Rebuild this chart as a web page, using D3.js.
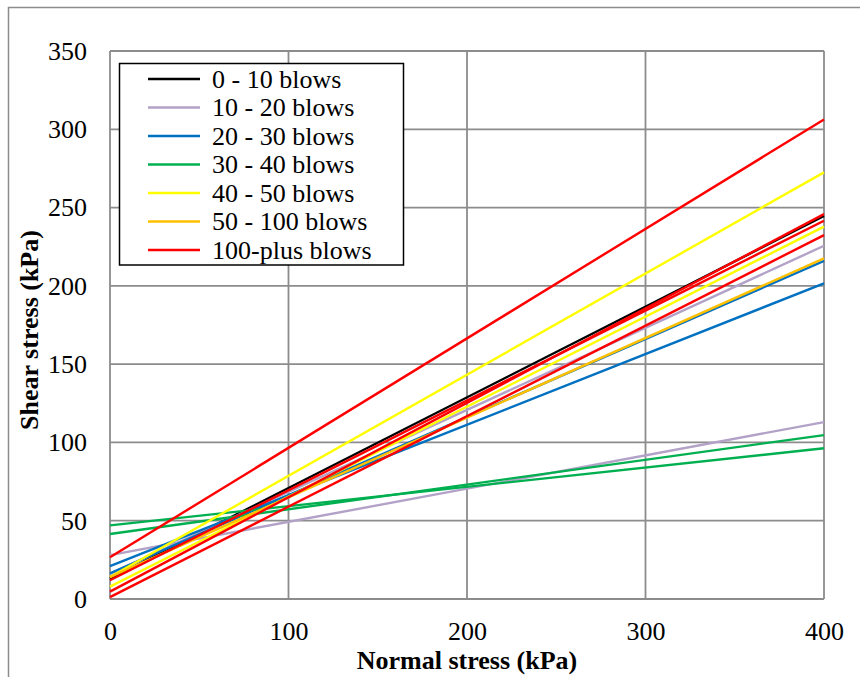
<!DOCTYPE html>
<html>
<head>
<meta charset="utf-8">
<script src="https://cdn.jsdelivr.net/npm/d3@7"></script>
<style>
  html, body { margin: 0; padding: 0; background: #fff; }
  svg { display: block; }
  text { font-family: "Liberation Serif", "Times New Roman", serif; fill: #000; }
</style>
</head>
<body>
<svg id="chart" width="865" height="677"></svg>
<script>
// ---- data ----
const seriesNames = ["0 - 10 blows", "10 - 20 blows", "20 - 30 blows", "30 - 40 blows",
                     "40 - 50 blows", "50 - 100 blows", "100-plus blows"];
const xEnds = [0, 400];                       // normal stress at line ends (kPa)
// shear stress at normal stress 0 and 400 for each fitted line, per series
const blows0to10   = [[13, 244.6]];
const blows10to20  = [[28, 113], [16, 225.6]];
const blows20to30  = [[21, 201.6], [16.4, 216]];
const blows30to40  = [[47, 96.3], [41.5, 104.7]];
const blows40to50  = [[14, 272.5], [7.9, 237.8]];
const blows50to100 = [[14, 217.6]];
const blows100plus = [[26.6, 306.3], [12, 241.6], [4.7, 245.8], [1.2, 232.4]];
const seriesLines = [blows0to10, blows10to20, blows20to30, blows30to40, blows40to50, blows50to100, blows100plus];
const xTicks = [0, 100, 200, 300, 400];
const yTicks = [0, 50, 100, 150, 200, 250, 300, 350];
const xTitle = "Normal stress (kPa)";
const yTitle = "Shear stress (kPa)";

// ---- styles ----
const colors = ["#000000", "#b3a2c7", "#0070c0", "#00b050", "#ffff00", "#ffc000", "#ff0000"];
const FS = "26px";

const svg = d3.select("#chart");
const x = d3.scaleLinear().domain([0, 400]).range([110, 824]);
const y = d3.scaleLinear().domain([0, 350]).range([599, 51]);

// outer frame
svg.append("path").attr("d", "M8.5,677 V7.5 H860").attr("fill", "none")
   .attr("stroke", "#8c8c8c").attr("stroke-width", 1.5);

// gridlines
const grid = svg.append("g");
grid.selectAll("line.v").data(xTicks).join("line")
  .attr("x1", d => x(d)).attr("x2", d => x(d)).attr("y1", y(0)).attr("y2", y(350))
  .attr("stroke", "#8c8c8c").attr("stroke-width", 1.8);
grid.selectAll("line.h").data(yTicks).join("line")
  .attr("y1", d => y(d)).attr("y2", d => y(d)).attr("x1", x(0)).attr("x2", x(400))
  .attr("stroke", "#8c8c8c").attr("stroke-width", 1.8);

// axes (labels only)
const xAxis = d3.axisBottom(x).tickValues(xTicks).tickSize(0).tickPadding(23);
const gx = svg.append("g").attr("transform", `translate(0,${y(0)})`).call(xAxis);
gx.select(".domain").remove();
gx.selectAll("text").style("font-size", FS).style("font-family", "Liberation Serif");

const yAxis = d3.axisLeft(y).tickValues(yTicks).tickSize(0).tickPadding(23);
const gy = svg.append("g").attr("transform", `translate(${x(0)},0)`).call(yAxis);
gy.select(".domain").remove();
gy.selectAll("text").style("font-size", FS).style("font-family", "Liberation Serif");

// lines
const lineGen = d3.line().x(d => x(d[0])).y(d => y(d[1]));
seriesLines.forEach((lines, i) => {
  lines.forEach(l => {
    svg.append("path")
      .attr("d", lineGen(xEnds.map((xv, k) => [xv, l[k]])))
      .attr("fill", "none").attr("stroke", colors[i]).attr("stroke-width", 2.4);
  });
});

// titles
svg.append("text").attr("x", 467).attr("y", 669).attr("text-anchor", "middle")
  .style("font-size", FS).style("font-weight", "bold").text(xTitle);
svg.append("text").attr("transform", "translate(38,330) rotate(-90)").attr("text-anchor", "middle")
  .style("font-size", FS).style("font-weight", "bold").text(yTitle);

// legend
const lg = svg.append("g");
lg.append("rect").attr("x", 119.5).attr("y", 63.5).attr("width", 284).attr("height", 201.5)
  .attr("fill", "#fff").attr("stroke", "#000").attr("stroke-width", 1.5);
seriesNames.forEach((name, i) => {
  const cy = 79 + i * 28.5;
  lg.append("line").attr("x1", 148).attr("x2", 200).attr("y1", cy).attr("y2", cy)
    .attr("stroke", colors[i]).attr("stroke-width", 2.4);
  lg.append("text").attr("x", 212).attr("y", cy + 8.5).style("font-size", FS).text(name);
});
</script>
</body>
</html>
